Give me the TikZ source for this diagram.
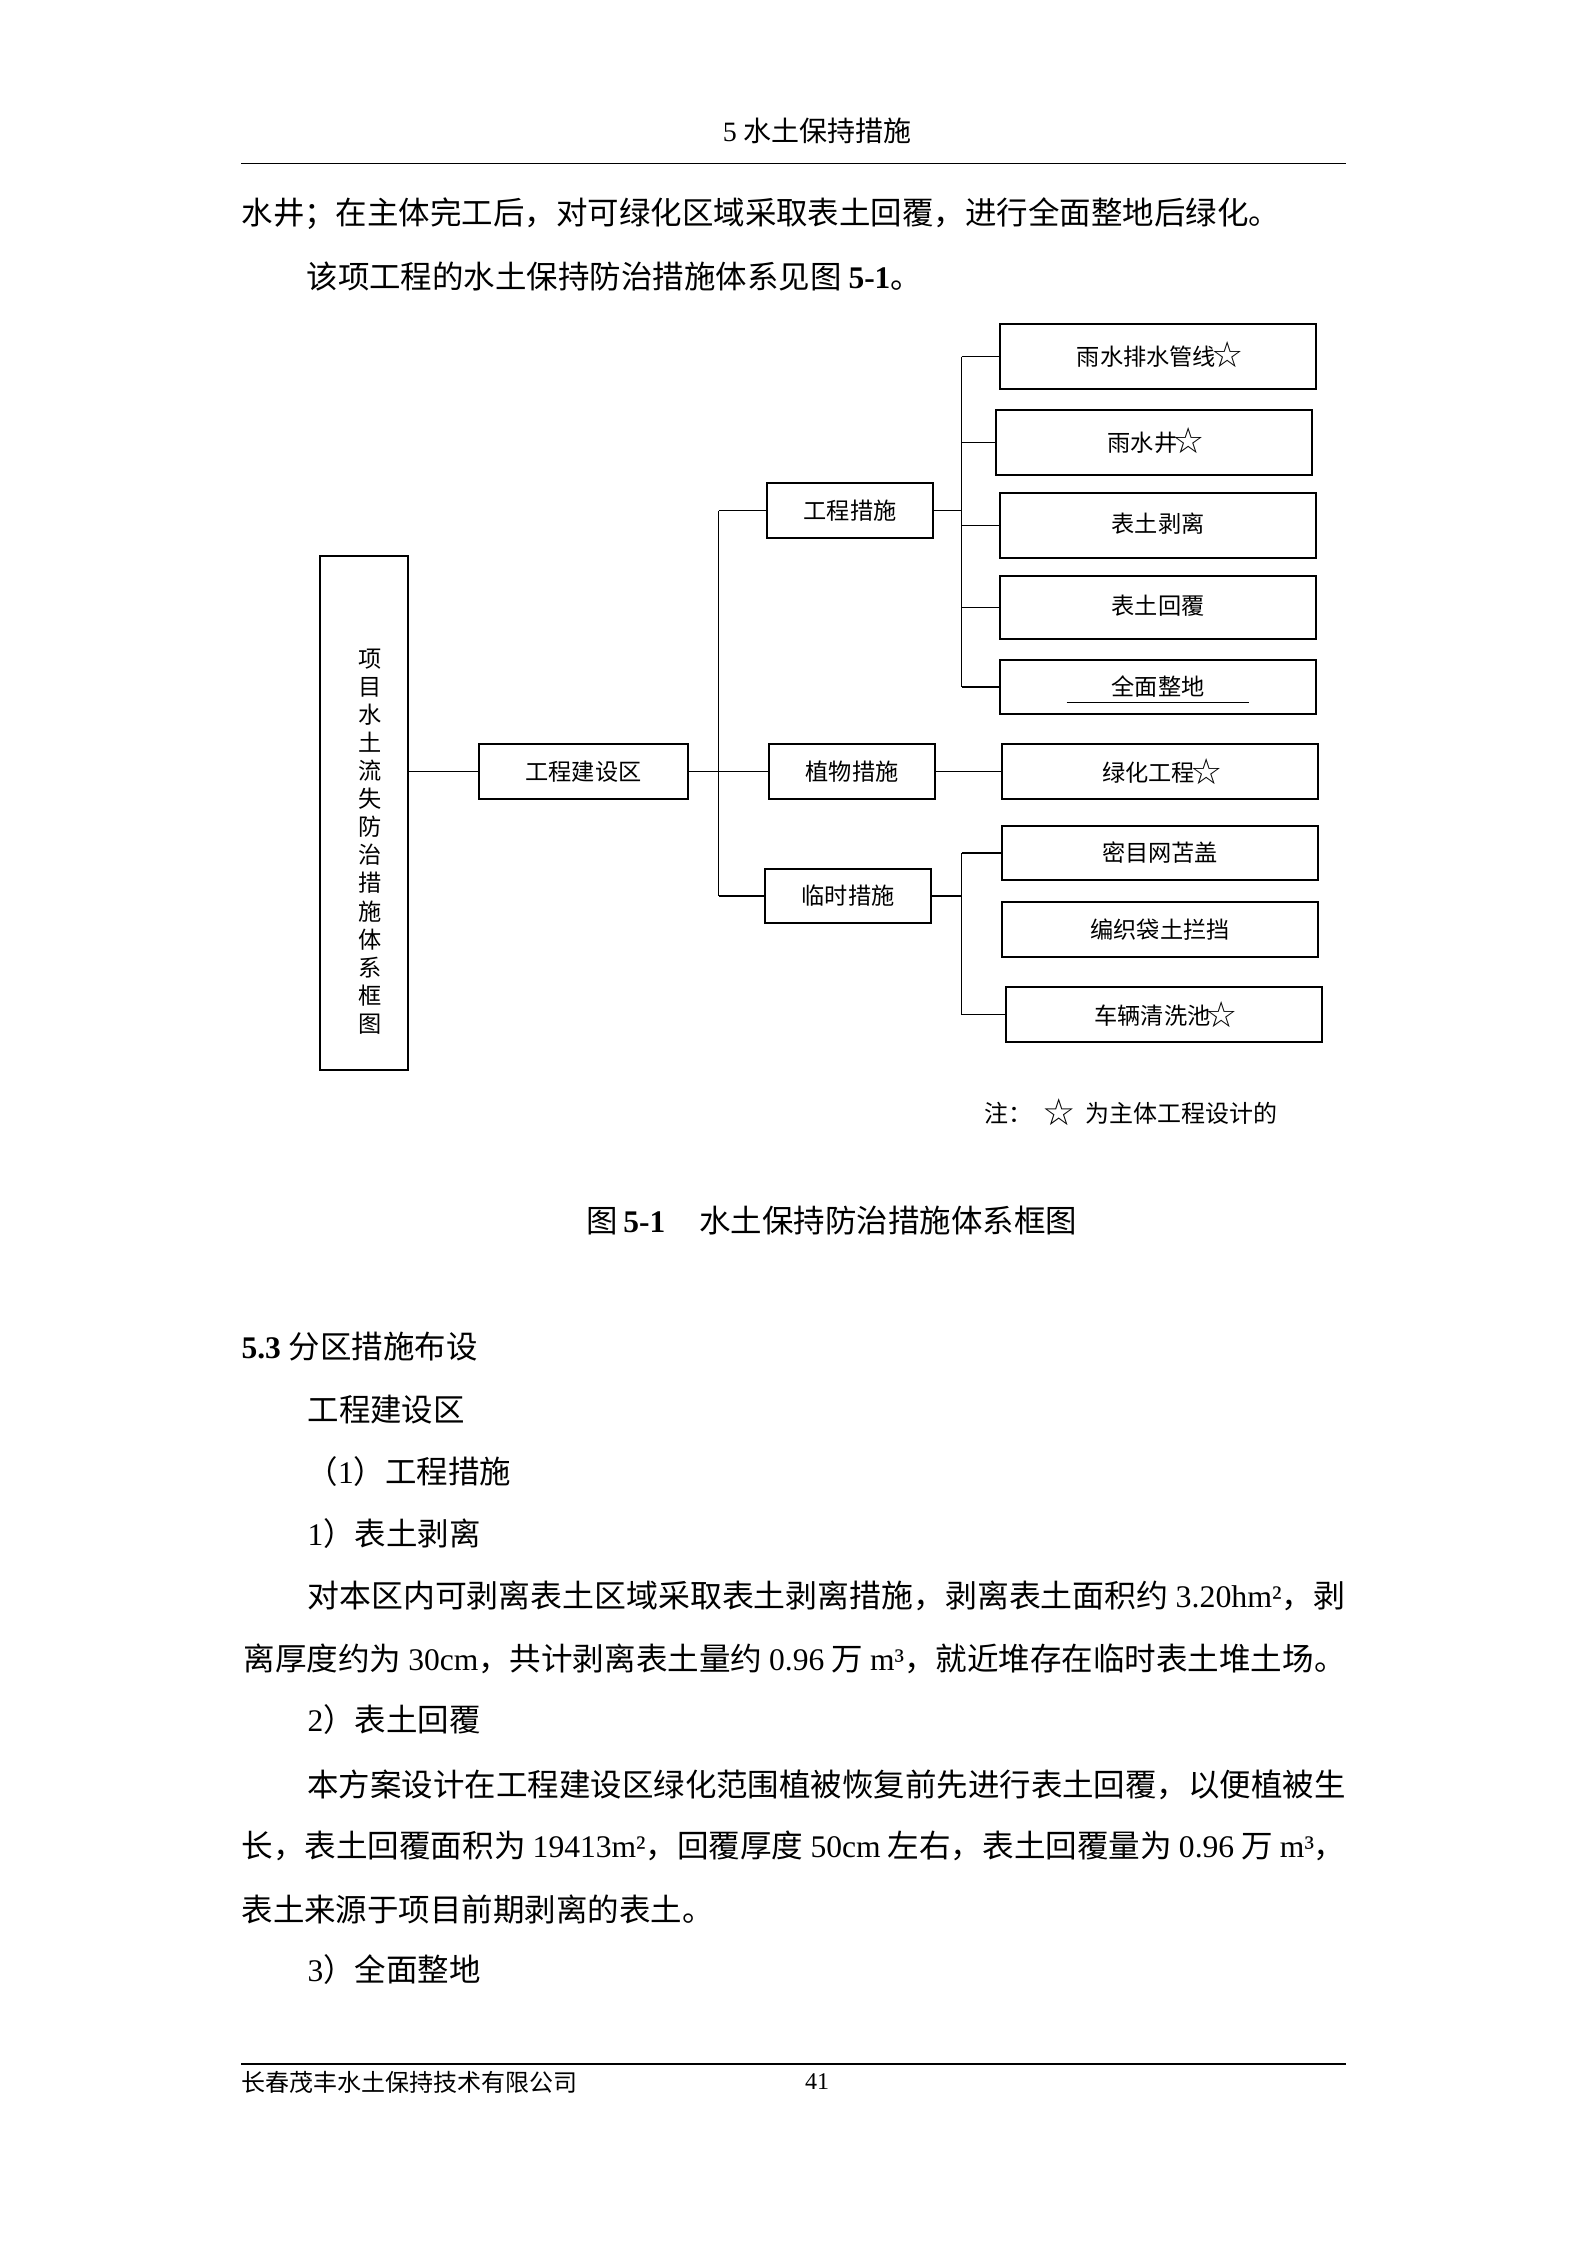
\documentclass[tikz,border=0pt]{standalone}
\usepackage{fontspec}
\usepackage{graphicx}
\setmainfont{Noto Sans CJK SC}
\newfontfamily\tnr{Liberation Serif}
\newfontfamily\djv{DejaVu Sans}
\newcommand\st{\makebox[1em]{\raisebox{-0.12em}{\scalebox{1.55}{\djv ☆}}}}
\newcommand\bodyf{\fontsize{11.8pt}{14pt}\selectfont}
\newcommand\dgf{\fontsize{8.7pt}{10.54pt}\selectfont}
\newcommand\hdf{\fontsize{10.5pt}{12pt}\selectfont}
\newcommand\ftf{\fontsize{9pt}{11pt}\selectfont}
\begin{document}
\begin{tikzpicture}[x=0.375pt,y=-0.375pt,
  box/.style={draw,line width=0.7pt,inner sep=0pt,font=\dgf},
  bx/.style 2 args={minimum width=#1*0.375pt,minimum height=#2*0.375pt},
  txt/.style={inner sep=0pt,anchor=west,font=\bodyf},
  conn/.style={line width=0.7pt},
  bus/.style={line width=0.55pt}]
\fill[white] (0,0) rectangle (1587,2245);
\useasboundingbox (0,0) rectangle (1587,2245);
% header
\node[inner sep=0pt,font=\hdf] (hd) at (817,131) {{\tnr 5} 水土保持措施};
\draw[line width=0.5pt] (241,163.3) coordinate (hl) -- (1346,163.3) coordinate (hr);
% intro
\node[txt] (l1) at (241,214) {水井；在主体完工后，对可绿化区域采取表土回覆，进行全面整地后绿化。};
\node[txt] (l2) at (306,277) {该项工程的水土保持防治措施体系见图 {\tnr\bfseries 5-1}。};
% diagram
\node[box,bx={88.5}{514}] (xm) at (364,813) {};
\node[inner sep=0pt,font=\dgf,align=center] (xmt) at (370,841.5) {项\\目\\水\\土\\流\\失\\防\\治\\措\\施\\体\\系\\框\\图};
\node[box,bx={209}{55}] (gq) at (583.5,771.5) {工程建设区};
\node[box,bx={166}{55}] (gc) at (850,510.5) {工程措施};
\node[box,bx={166}{55}] (zw) at (852,771.5) {植物措施};
\node[box,bx={166}{54}] (ls) at (848,896) {临时措施};
\node[box,bx={316}{65}] (a1) at (1158,356.5) {\raisebox{2.3pt}{雨水排水管线\st}};
\node[box,bx={316}{65}] (a2) at (1154,442.5) {\raisebox{2.3pt}{雨水井\st}};
\node[box,bx={316}{65}] (a3) at (1158,525.5) {\raisebox{2.3pt}{表土剥离}};
\node[box,bx={316}{63}] (a4) at (1158,607.5) {\raisebox{1.8pt}{表土回覆}};
\node[box,bx={316}{54}] (a5) at (1158,687) {全面整地};
\draw[line width=0.4pt] (1066.7,702.3) coordinate (u1) -- (1249,702.3) coordinate (u2);
\node[box,bx={316}{55}] (lh) at (1160,771.5) {绿化工程\st};
\node[box,bx={316}{54}] (m1) at (1160,853) {密目网苫盖};
\node[box,bx={316}{55}] (m2) at (1160,929.5) {编织袋土拦挡};
\node[box,bx={316}{55}] (m3) at (1164,1014.5) {车辆清洗池\st};
\coordinate (b1) at (718.5,0);
\coordinate (b2) at (961.6,0);
% connectors
\draw[conn] (xm.east |- gq.west) -- (gq.west);
\draw[conn] (gq.east) -- (zw.west);
\draw[conn] (gc.west) -- (b1 |- gc.west);
\draw[bus] (b1 |- gc.west) -- (b1 |- ls.west);
\draw[conn] (b1 |- ls.west) -- (ls.west);
\draw[conn] (gc.east) -- (b2 |- gc.east);
\draw[bus] (b2 |- a1.west) -- (b2 |- a5.west);
\foreach \n in {a1,a2,a3,a4,a5} \draw[conn] (b2 |- \n.west) -- (\n.west);
\draw[conn] (zw.east) -- (lh.west);
\draw[conn] (ls.east) -- (b2 |- ls.east);
\draw[bus] (b2 |- m1.west) -- (b2 |- m3.west);
\draw[conn] (b2 |- m1.west) -- (m1.west);
\draw[conn] (b2 |- m3.west) -- (m3.west);
\node[inner sep=0pt,anchor=west,font=\fontsize{9pt}{11pt}\selectfont] (note) at (984,1112) {注：\hspace{5.6pt}\st\hspace{5.2pt}为主体工程设计的};
% caption
\node[txt] (cap) at (586,1221) {图\hspace{2pt}{\tnr\bfseries 5-1}\hspace{12.8pt}水土保持防治措施体系框图};
% section
\node[txt] (s1) at (241,1347) {{\tnr\bfseries 5.3}\hspace{3pt}分区措施布设};
\node[txt] (s2) at (307,1410) {工程建设区};
\node[txt] (s3) at (306,1472) {（{\tnr 1}）工程措施};
\node[txt] (s4) at (307,1534) {{\tnr 1}）表土剥离};
\node[txt] (p1) at (307,1596) {\resizebox{389.25pt}{\height}{对本区内可剥离表土区域采取表土剥离措施，剥离表土面积约 {\tnr 3.20hm²}，剥}};
\node[txt] (p2) at (243,1659) {\resizebox{413.25pt}{\height}{离厚度约为 {\tnr 30cm}，共计剥离表土量约 {\tnr 0.96} 万 {\tnr m³}，就近堆存在临时表土堆土场。}};
\node[txt] (s5) at (307,1720) {{\tnr 2}）表土回覆};
\node[txt] (p3) at (307,1785) {\resizebox{389.25pt}{\height}{本方案设计在工程建设区绿化范围植被恢复前先进行表土回覆，以便植被生}};
\node[txt] (p4) at (241,1846) {\resizebox{414pt}{\height}{长，表土回覆面积为 {\tnr 19413m²}，回覆厚度 {\tnr 50cm} 左右，表土回覆量为 {\tnr 0.96} 万 {\tnr m³}，}};
\node[txt] (p5) at (241,1909) {表土来源于项目前期剥离的表土。};
\node[txt] (s6) at (307,1970) {{\tnr 3}）全面整地};
% footer
\draw[line width=0.75pt] (241,2064) coordinate (fl) -- (1346,2064) coordinate (fr);
\node[inner sep=0pt,anchor=west,font=\ftf] (ft) at (241,2082) {长春茂丰水土保持技术有限公司};
\node[inner sep=0pt,font=\ftf] (pg) at (817,2082) {\tnr 41};
\end{tikzpicture}
\end{document}
